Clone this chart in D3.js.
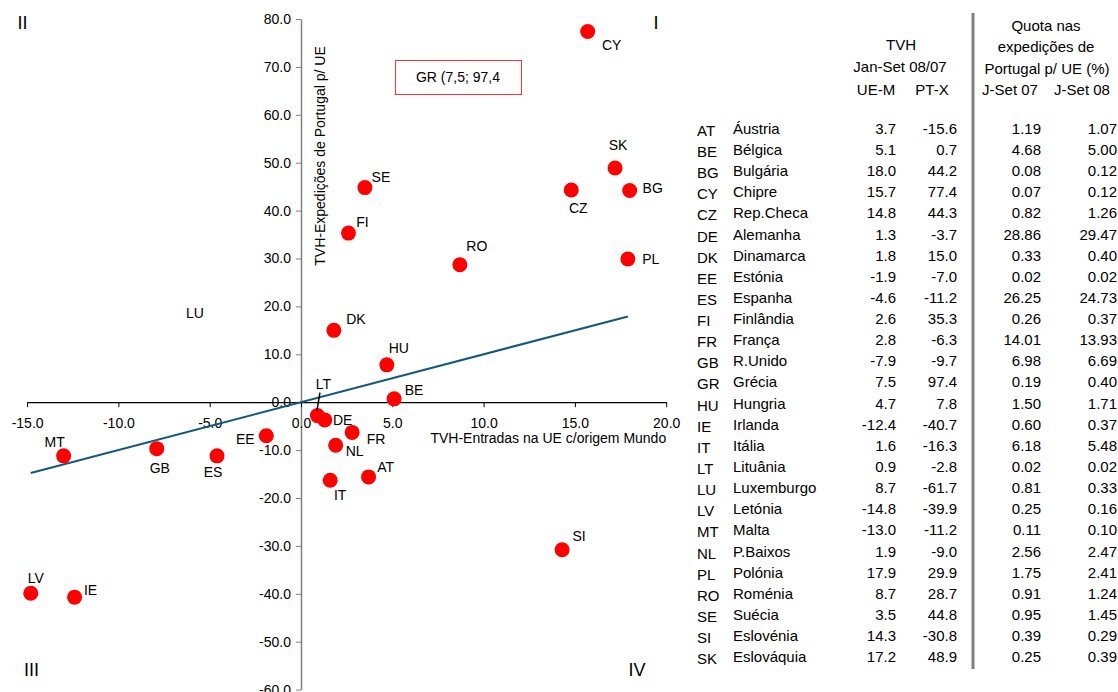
<!DOCTYPE html>
<html>
<head>
<meta charset="utf-8">
<script src="https://cdn.jsdelivr.net/npm/d3@7"></script>
<style>
  html, body { margin: 0; padding: 0; background: #fff; }
  svg { display: block; font-family: "Liberation Sans", Arial, sans-serif; }
</style>
</head>
<body>
<svg id="chart" width="1118" height="692"></svg>
<script>
// ---- Data ----
const codes = ["AT","BE","BG","CY","CZ","DE","DK","EE","ES","FI","FR","GB","GR","HU","IE","IT","LT","LU","LV","MT","NL","PL","RO","SE","SI","SK"];
const names = ["Áustria","Bélgica","Bulgária","Chipre","Rep.Checa","Alemanha","Dinamarca","Estónia","Espanha","Finlândia","França","R.Unido","Grécia","Hungria","Irlanda","Itália","Lituânia","Luxemburgo","Letónia","Malta","P.Baixos","Polónia","Roménia","Suécia","Eslovénia","Eslováquia"];
const ueM = [3.7,5.1,18.0,15.7,14.8,1.3,1.8,-1.9,-4.6,2.6,2.8,-7.9,7.5,4.7,-12.4,1.6,0.9,8.7,-14.8,-13.0,1.9,17.9,8.7,3.5,14.3,17.2];
const ptX = [-15.6,0.7,44.2,77.4,44.3,-3.7,15.0,-7.0,-11.2,35.3,-6.3,-9.7,97.4,7.8,-40.7,-16.3,-2.8,-61.7,-39.9,-11.2,-9.0,29.9,28.7,44.8,-30.8,48.9];
const quota07 = [1.19,4.68,0.08,0.07,0.82,28.86,0.33,0.02,26.25,0.26,14.01,6.98,0.19,1.50,0.60,6.18,0.02,0.81,0.25,0.11,2.56,1.75,0.91,0.95,0.39,0.25];
const quota08 = [1.07,5.00,0.12,0.12,1.26,29.47,0.40,0.02,24.73,0.37,13.93,6.69,0.40,1.71,0.37,5.48,0.02,0.33,0.16,0.10,2.47,2.41,1.24,1.45,0.29,0.39];
const xTicks = [-15,-10,-5,0,5,10,15,20];
const yTicks = [-60,-50,-40,-30,-20,-10,0,10,20,30,40,50,60,70,80];
const trendX = [-14.8, 17.9];
const trendY = [-14.8, 17.9];
const quadrantLabels = ["I","II","III","IV"];
const xTitle = "TVH-Entradas na UE c/origem Mundo";
const yTitle = "TVH-Expedições de Portugal p/ UE";
const outsideNote = "GR (7,5; 97,4";
const headLeft = ["TVH","Jan-Set 08/07"];
const colsLeft = ["UE-M","PT-X"];
const headRight = ["Quota nas","expedições de","Portugal p/ UE (%)"];
const colsRight = ["J-Set 07","J-Set 08"];

// ---- Styling / layout (label offsets in px relative to the point) ----
const labelOffset = {
  CY:[24,14], SK:[3,-23], BG:[23,-2], CZ:[7,18], SE:[16,-11], FI:[14,-11],
  RO:[17,-19], PL:[23,0], DK:[22,-11], HU:[12,-17], BE:[20,-9], LT:[6,-32],
  DE:[18,0], FR:[24,7], NL:[19,6], AT:[17,-10], IT:[10,15], SI:[17,-14],
  EE:[-21,3], GB:[3,19], ES:[-4,16], MT:[-9,-14], LV:[5,-15], IE:[16,-7]
};

const svg = d3.select("#chart");
svg.append("rect").attr("width",1118).attr("height",692).attr("fill","#fff");

const x = d3.scaleLinear().domain([-15, 20]).range([27.1, 666.2]);
const y = d3.scaleLinear().domain([-60, 80]).range([689.6, 19.0]);

const locale = d3.formatLocale({decimal:".", thousands:",", grouping:[3], currency:["",""], minus:"-"});
const fmt1 = locale.format(".1f");
const fmt2 = locale.format(".2f");

// Y axis (at x=0)
const yAxis = svg.append("g")
  .attr("transform", `translate(${x(0)},0)`)
  .call(d3.axisLeft(y).tickValues(yTicks).tickFormat(fmt1).tickSize(5).tickSizeOuter(0).tickPadding(5));
yAxis.select(".domain").attr("stroke","#808080").attr("stroke-width",1.5);
yAxis.selectAll(".tick line").attr("stroke","#808080");
yAxis.selectAll("text").attr("font-size",14).attr("fill","#000").attr("font-family","Liberation Sans, Arial, sans-serif");

// X axis (at y=0)
const xAxis = svg.append("g")
  .attr("transform", `translate(0,${y(0)})`)
  .call(d3.axisBottom(x).tickValues(xTicks).tickFormat(fmt1).tickSize(5).tickSizeOuter(0).tickPadding(11));
xAxis.select(".domain").attr("stroke","#000").attr("stroke-width",1.2);
xAxis.selectAll(".tick line").attr("stroke","#000");
xAxis.selectAll("text").attr("font-size",14).attr("fill","#000").attr("font-family","Liberation Sans, Arial, sans-serif");

// Axis titles
svg.append("text")
  .attr("x", x(20)).attr("y", 443)
  .attr("text-anchor","end").attr("font-size",14).attr("fill","#000")
  .text(xTitle);
svg.append("text")
  .attr("transform", `translate(325,156) rotate(-90)`)
  .attr("text-anchor","middle").attr("font-size",14).attr("fill","#000")
  .text(yTitle);

// Trend line
const trendData = trendX.map((v,i)=>[v, trendY[i]]);
svg.append("path")
  .datum(trendData)
  .attr("d", d3.line().x(d=>x(d[0])).y(d=>y(d[1])))
  .attr("stroke","#14587a").attr("stroke-width",2).attr("fill","none");

// Points
const pts = codes.map((c,i)=>({code:c, x:ueM[i], y:ptX[i]}))
  .filter(d => d.y >= -60 && d.y <= 80 && d.x >= -15 && d.x <= 20);

svg.append("g").selectAll("circle").data(pts).join("circle")
  .attr("cx", d=>x(d.x)).attr("cy", d=>y(d.y)).attr("r", 7.5)
  .attr("fill","#ff0000");

// Leader line for LT
const lt = pts.find(d=>d.code==="LT");
svg.append("line")
  .attr("x1", x(lt.x)+2.5).attr("y1", y(lt.y)-23)
  .attr("x2", x(lt.x)-0.5).attr("y2", y(lt.y)-5)
  .attr("stroke","#000").attr("stroke-width",1.5);

svg.append("g").selectAll("text").data(pts).join("text")
  .attr("x", d=>x(d.x)+(labelOffset[d.code]||[10,-10])[0])
  .attr("y", d=>y(d.y)+(labelOffset[d.code]||[10,-10])[1])
  .attr("text-anchor","middle").attr("dominant-baseline","central")
  .attr("font-size",14).attr("fill","#000")
  .text(d=>d.code);

// LU label (point out of range)
svg.append("text").attr("x",195).attr("y",313)
  .attr("text-anchor","middle").attr("dominant-baseline","central")
  .attr("font-size",14).attr("fill","#000").text(codes[17]);

// GR note box
svg.append("rect").attr("x",395.5).attr("y",60.5).attr("width",126).attr("height",34)
  .attr("fill","#fff").attr("stroke","#ff3333").attr("stroke-width",1);
svg.append("text").attr("x",458).attr("y",77)
  .attr("text-anchor","middle").attr("dominant-baseline","central")
  .attr("font-size",14).attr("fill","#000").text(outsideNote);

// Quadrant labels
const qPos = [[656,23],[22.5,23],[31.5,670],[637,670]];
svg.append("g").selectAll("text").data(quadrantLabels).join("text")
  .attr("x",(d,i)=>qPos[i][0]).attr("y",(d,i)=>qPos[i][1])
  .attr("text-anchor","middle").attr("dominant-baseline","central")
  .attr("font-size",18).attr("fill","#000").text(d=>d);

// ---- Table ----
const tfs = 15;
const tbl = svg.append("g").attr("font-size",tfs).attr("fill","#000");
tbl.append("line").attr("x1",973).attr("x2",973).attr("y1",13).attr("y2",669)
  .attr("stroke","#808080").attr("stroke-width",3);

const hdr = (t,xx,yy,anchor) => tbl.append("text").attr("x",xx).attr("y",yy)
  .attr("text-anchor",anchor||"middle").attr("dominant-baseline","central").text(t);
hdr(headLeft[0], 901, 44);
hdr(headLeft[1], 900, 66);
hdr(colsLeft[0], 876, 89);
hdr(colsLeft[1], 932, 89);
hdr(headRight[0], 1046, 25);
hdr(headRight[1], 1046, 46);
hdr(headRight[2], 1047, 68);
hdr(colsRight[0], 1010, 89);
hdr(colsRight[1], 1082, 89);

const rowY = i => 128.3 + i*21.14;
const rows = tbl.append("g").selectAll("g").data(codes).join("g");
rows.append("text").attr("x",697).attr("y",(d,i)=>rowY(i)+2).attr("dominant-baseline","central").text(d=>d);
rows.append("text").attr("x",733).attr("y",(d,i)=>rowY(i)).attr("dominant-baseline","central").text((d,i)=>names[i]);
rows.append("text").attr("x",896).attr("y",(d,i)=>rowY(i)).attr("text-anchor","end").attr("dominant-baseline","central").text((d,i)=>fmt1(ueM[i]));
rows.append("text").attr("x",957).attr("y",(d,i)=>rowY(i)).attr("text-anchor","end").attr("dominant-baseline","central").text((d,i)=>fmt1(ptX[i]));
rows.append("text").attr("x",1041).attr("y",(d,i)=>rowY(i)).attr("text-anchor","end").attr("dominant-baseline","central").text((d,i)=>fmt2(quota07[i]));
rows.append("text").attr("x",1117).attr("y",(d,i)=>rowY(i)).attr("text-anchor","end").attr("dominant-baseline","central").text((d,i)=>fmt2(quota08[i]));
</script>
</body>
</html>
